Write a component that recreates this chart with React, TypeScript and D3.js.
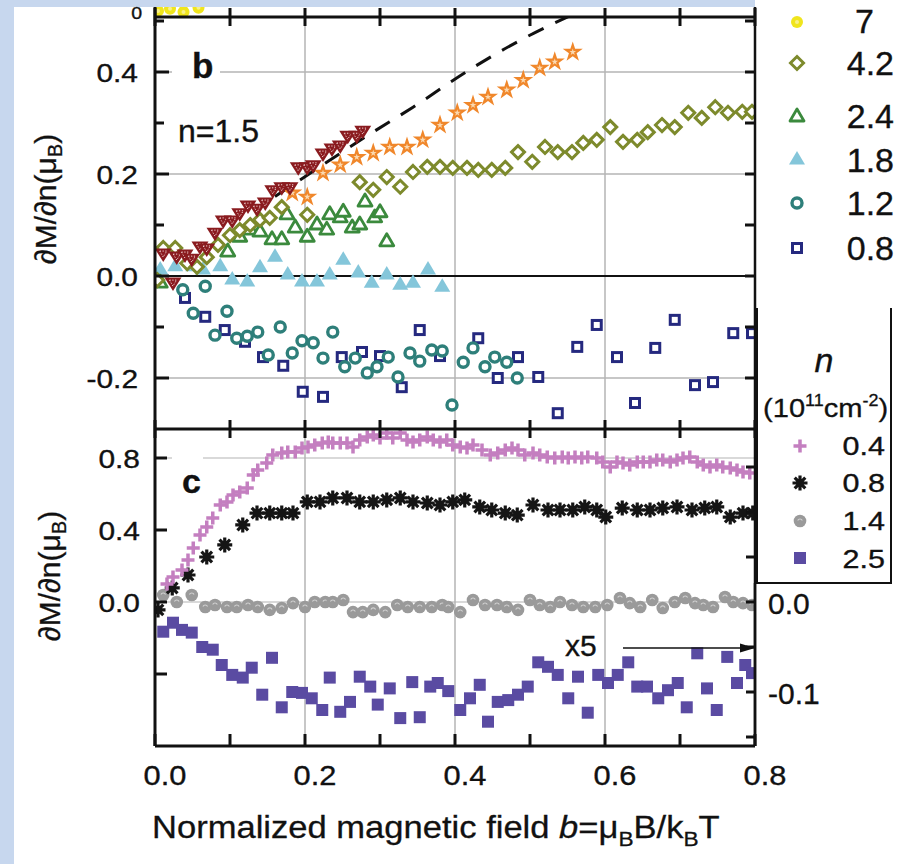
import React from "react";
import * as d3 from "d3";

// ---------------- data ----------------
// x = normalized field b, y = dM/dn (mu_B)
const xMajorTicks = [0, 0.2, 0.4, 0.6, 0.8];
const xMinorTicks = [0.1, 0.3, 0.5, 0.7];
const xGrid = [0.2, 0.4, 0.6];
const bMajorTicks = [0.4, 0.2, 0.0, -0.2];
const bMinorTicks = [0.5, 0.3, 0.1, -0.1];
const bGrid = [0.4, 0.2, -0.2];
const cMajorTicks = [0.8, 0.4, 0.0, -0.4];
const cLabeledTicks = [0.8, 0.4, 0.0];
const cGrid = [0.8, 0.0];
const rightTicks = [0.15, 0.1, 0.05, 0.0, -0.05, -0.1, -0.15];
const rightLabels = [0.0, -0.1];

const legendB = ["7", "4.2", "2.4", "1.8", "1.2", "0.8"];
const legendC = ["0.4", "0.8", "1.4", "2.5"];

// panel b
const redTriangles = [
  [0.011, 0.045], [0.024, -0.012], [0.029, 0.039], [0.04, 0.043], [0.049, 0.035], [0.06, 0.059],
  [0.069, 0.055], [0.08, 0.086], [0.091, 0.11], [0.103, 0.11], [0.113, 0.124], [0.124, 0.139],
  [0.136, 0.133], [0.147, 0.145], [0.157, 0.169], [0.169, 0.175], [0.18, 0.175], [0.191, 0.214],
  [0.203, 0.214], [0.211, 0.218], [0.224, 0.241], [0.236, 0.251], [0.247, 0.257], [0.257, 0.276],
  [0.269, 0.276], [0.277, 0.286],
];
const orangeStars = [
  [0.183, 0.163], [0.203, 0.155], [0.224, 0.202], [0.247, 0.218], [0.269, 0.233], [0.291, 0.241],
  [0.313, 0.253], [0.336, 0.253], [0.357, 0.267], [0.38, 0.296], [0.403, 0.32], [0.424, 0.335],
  [0.444, 0.351], [0.469, 0.365], [0.491, 0.384], [0.513, 0.408], [0.533, 0.42], [0.557, 0.439],
];
const n42 = [
  [0.003, -0.008], [0.011, 0.055], [0.027, 0.055], [0.043, 0.025], [0.056, 0.018], [0.069, 0.037],
  [0.084, 0.061], [0.1, 0.08], [0.113, 0.09], [0.127, 0.1], [0.14, 0.11], [0.153, 0.114],
  [0.169, 0.135], [0.203, 0.12], [0.273, 0.184], [0.291, 0.169], [0.309, 0.194], [0.327, 0.175],
  [0.344, 0.204], [0.363, 0.214], [0.38, 0.214], [0.397, 0.212], [0.416, 0.212], [0.431, 0.208],
  [0.449, 0.208], [0.467, 0.212], [0.484, 0.243], [0.503, 0.224], [0.52, 0.253], [0.537, 0.243],
  [0.556, 0.243], [0.571, 0.261], [0.589, 0.267], [0.607, 0.292], [0.624, 0.263], [0.643, 0.267],
  [0.657, 0.282], [0.676, 0.296], [0.693, 0.292], [0.711, 0.32], [0.729, 0.31], [0.747, 0.331],
  [0.764, 0.32], [0.783, 0.322], [0.796, 0.322],
];
const n24 = [
  [0.007, -0.014], [0.097, 0.047], [0.113, 0.076], [0.127, 0.09], [0.14, 0.086], [0.156, 0.071],
  [0.169, 0.071], [0.176, 0.12], [0.187, 0.094], [0.203, 0.076], [0.216, 0.1], [0.229, 0.09],
  [0.233, 0.12], [0.247, 0.114], [0.251, 0.125], [0.263, 0.094], [0.273, 0.1], [0.28, 0.145],
  [0.293, 0.114], [0.3, 0.124], [0.309, 0.067],
];
const n18 = [
  [0.007, 0.012], [0.027, 0.018], [0.051, 0.018], [0.064, 0.012], [0.087, 0.018], [0.103, -0.008],
  [0.123, -0.012], [0.14, 0.016], [0.16, 0.037], [0.177, 0.002], [0.196, -0.012], [0.216, -0.012],
  [0.233, 0.002], [0.251, 0.031], [0.271, 0.006], [0.289, -0.014], [0.309, 0.002], [0.327, -0.018],
  [0.344, -0.014], [0.364, 0.012], [0.383, -0.022],
];
const n12 = [
  [0.037, -0.027], [0.051, -0.073], [0.067, -0.02], [0.08, -0.116], [0.096, -0.069], [0.109, -0.122],
  [0.123, -0.118], [0.137, -0.11], [0.151, -0.155], [0.167, -0.1], [0.183, -0.151], [0.196, -0.127],
  [0.211, -0.131], [0.224, -0.161], [0.237, -0.11], [0.253, -0.178], [0.267, -0.161], [0.283, -0.19],
  [0.296, -0.178], [0.311, -0.159], [0.324, -0.198], [0.34, -0.151], [0.353, -0.167], [0.369, -0.145],
  [0.383, -0.147], [0.396, -0.253], [0.411, -0.169], [0.424, -0.141], [0.44, -0.178], [0.453, -0.159],
  [0.469, -0.169], [0.483, -0.2],
];
const n08b = [
  [0.04, -0.043], [0.067, -0.08], [0.093, -0.106], [0.12, -0.129], [0.144, -0.159], [0.171, -0.176],
  [0.197, -0.227], [0.224, -0.237], [0.249, -0.159], [0.276, -0.149], [0.3, -0.157], [0.329, -0.218],
  [0.353, -0.106], [0.38, -0.157], [0.431, -0.122], [0.457, -0.2], [0.484, -0.159], [0.511, -0.198],
  [0.537, -0.269], [0.563, -0.139], [0.589, -0.096], [0.616, -0.159], [0.64, -0.249], [0.667, -0.141],
  [0.693, -0.086], [0.72, -0.214], [0.744, -0.208], [0.771, -0.112], [0.796, -0.112],
];
// remnants of the panel above (n = 7)
const n7top = [[0.004, 0.012], [0.02, 0.016], [0.038, 0.01], [0.058, 0.018]];
// dashed theory curve
const theory = [
  [0.16, 0.156], [0.193, 0.188], [0.284, 0.276], [0.344, 0.331], [0.42, 0.405], [0.497, 0.47], [0.556, 0.512],
];

// panel c
const n04 = [
  [0.016, 0.1], [0.024, 0.139], [0.036, 0.178], [0.044, 0.233], [0.051, 0.3], [0.06, 0.372], [0.069, 0.417],
  [0.077, 0.467], [0.087, 0.539], [0.096, 0.556], [0.104, 0.594], [0.113, 0.611], [0.123, 0.633],
  [0.131, 0.706], [0.137, 0.733], [0.149, 0.772], [0.157, 0.817], [0.169, 0.828], [0.177, 0.833],
  [0.187, 0.833], [0.196, 0.856], [0.204, 0.861], [0.213, 0.872], [0.223, 0.883], [0.231, 0.889],
  [0.237, 0.883], [0.247, 0.883], [0.256, 0.883], [0.264, 0.861], [0.273, 0.9], [0.283, 0.917],
  [0.291, 0.928], [0.3, 0.911], [0.309, 0.939], [0.317, 0.911], [0.327, 0.939], [0.336, 0.9],
  [0.344, 0.889], [0.353, 0.9], [0.363, 0.917], [0.371, 0.9], [0.38, 0.889], [0.389, 0.9],
  [0.397, 0.872], [0.407, 0.861], [0.416, 0.856], [0.424, 0.872], [0.436, 0.844], [0.447, 0.817],
  [0.457, 0.828], [0.467, 0.844], [0.476, 0.856], [0.484, 0.844], [0.493, 0.817], [0.504, 0.828],
  [0.513, 0.817], [0.523, 0.806], [0.533, 0.8], [0.543, 0.806], [0.551, 0.8], [0.56, 0.806],
  [0.569, 0.8], [0.577, 0.806], [0.589, 0.8], [0.597, 0.778], [0.607, 0.75], [0.616, 0.778],
  [0.624, 0.772], [0.633, 0.761], [0.643, 0.778], [0.651, 0.778], [0.66, 0.778], [0.669, 0.789],
  [0.677, 0.789], [0.687, 0.778], [0.696, 0.789], [0.704, 0.8], [0.713, 0.806], [0.723, 0.778],
  [0.731, 0.761], [0.74, 0.75], [0.749, 0.761], [0.757, 0.75], [0.767, 0.744], [0.776, 0.733],
  [0.784, 0.722], [0.793, 0.717],
];
const n08c = [
  [0.004, -0.044], [0.023, 0.078], [0.044, 0.15], [0.069, 0.25], [0.093, 0.317], [0.117, 0.428],
  [0.136, 0.494], [0.153, 0.494], [0.169, 0.494], [0.184, 0.494], [0.203, 0.556], [0.22, 0.556],
  [0.237, 0.578], [0.256, 0.578], [0.273, 0.556], [0.291, 0.556], [0.309, 0.567], [0.327, 0.578],
  [0.344, 0.556], [0.363, 0.55], [0.38, 0.539], [0.397, 0.556], [0.413, 0.567], [0.433, 0.528],
  [0.449, 0.511], [0.467, 0.494], [0.483, 0.483], [0.504, 0.539], [0.524, 0.511], [0.54, 0.511],
  [0.557, 0.511], [0.573, 0.528], [0.589, 0.511], [0.601, 0.472], [0.623, 0.522], [0.643, 0.511],
  [0.66, 0.511], [0.677, 0.522], [0.696, 0.528], [0.716, 0.511], [0.733, 0.522], [0.749, 0.528],
  [0.767, 0.472], [0.784, 0.494], [0.797, 0.494],
];
const n14 = [
  [0.011, 0.039], [0.029, 0.0], [0.049, 0.039], [0.067, -0.028], [0.08, -0.017], [0.096, -0.028],
  [0.109, -0.028], [0.124, -0.017], [0.137, -0.028], [0.153, -0.044], [0.169, -0.033], [0.184, -0.006],
  [0.2, -0.028], [0.213, 0.0], [0.227, 0.0], [0.237, 0.0], [0.251, 0.011], [0.264, -0.056],
  [0.277, -0.056], [0.291, -0.044], [0.307, -0.056], [0.323, -0.017], [0.337, -0.028], [0.353, -0.028],
  [0.369, -0.028], [0.383, -0.017], [0.391, -0.028], [0.407, -0.056], [0.424, 0.011], [0.44, -0.017],
  [0.456, -0.017], [0.469, -0.028], [0.484, -0.044], [0.5, 0.011], [0.513, -0.017], [0.527, -0.028],
  [0.54, 0.0], [0.556, -0.017], [0.571, -0.028], [0.587, -0.028], [0.603, -0.017], [0.62, 0.022],
  [0.633, -0.006], [0.647, -0.028], [0.663, 0.011], [0.677, -0.033], [0.693, 0.0], [0.707, 0.022],
  [0.72, -0.006], [0.731, -0.017], [0.744, -0.028], [0.76, 0.028], [0.771, 0.0], [0.784, -0.006],
  [0.796, -0.017],
];
// n = 2.5, true values (plotted x5, read on the right axis)
const n25 = [
  [0.011, -0.033], [0.024, -0.023], [0.036, -0.031], [0.049, -0.034], [0.063, -0.05], [0.077, -0.053],
  [0.089, -0.07], [0.103, -0.081], [0.117, -0.084], [0.129, -0.073], [0.143, -0.103], [0.156, -0.062],
  [0.169, -0.117], [0.183, -0.1], [0.196, -0.101], [0.209, -0.107], [0.223, -0.12], [0.233, -0.084],
  [0.247, -0.122], [0.26, -0.111], [0.273, -0.083], [0.287, -0.094], [0.297, -0.114], [0.313, -0.096],
  [0.327, -0.129], [0.343, -0.089], [0.353, -0.128], [0.367, -0.094], [0.377, -0.09], [0.391, -0.099],
  [0.407, -0.12], [0.42, -0.107], [0.433, -0.092], [0.444, -0.133], [0.457, -0.111], [0.471, -0.109],
  [0.484, -0.103], [0.497, -0.094], [0.511, -0.067], [0.524, -0.072], [0.537, -0.081], [0.551, -0.107],
  [0.564, -0.083], [0.577, -0.123], [0.591, -0.081], [0.604, -0.09], [0.617, -0.081], [0.631, -0.067],
  [0.643, -0.094], [0.656, -0.094], [0.671, -0.107], [0.684, -0.098], [0.697, -0.09], [0.709, -0.117],
  [0.723, -0.057], [0.736, -0.096], [0.749, -0.12], [0.763, -0.061], [0.776, -0.09], [0.787, -0.07],
  [0.796, -0.079],
];

// ---------------- drawing ----------------
const FF = "'Liberation Sans', Arial, 'DejaVu Sans', sans-serif";
const C = {
  red: "#8a1b1f", orange: "#f0872b", olive: "#7d8a2c", green: "#3b8a3d", lblue: "#84c6da",
  teal: "#2e7f7a", navy: "#25297f", yellow: "#f0e51d", pink: "#c47fc0", black: "#151515",
  gray: "#9a9a9a", purple: "#5a4ba2", grid: "#b4b4b4", bg: "#c7d7ee",
};

const fmt = (v: number) => d3.format(".1f")(v).replace("\u2212", "-");
const tri = (w: number, h: number, down: boolean) =>
  down ? `M${-w},${-h / 3}L${w},${-h / 3}L0,${(2 * h) / 3}Z` : `M${-w},${h / 3}L${w},${h / 3}L0,${(-2 * h) / 3}Z`;
const diamond = (r: number) => `M0,${-r}L${r},0L0,${r}L${-r},0Z`;
const plus = (r: number) => `M${-r},0H${r}M0,${-r}V${r}`;
const asterisk = (r: number) =>
  [0, 45, 90, 135]
    .map((a) => {
      const t = (a * Math.PI) / 180;
      return `M${-r * Math.cos(t)},${-r * Math.sin(t)}L${r * Math.cos(t)},${r * Math.sin(t)}`;
    })
    .join("");
const starPath = d3.symbol(d3.symbolStar, 125)() as string;
const starInner = d3.symbol(d3.symbolStar, 14)() as string;

const T = (p: any) => {
  const { x, y, sx = 1, anchor = "start", size, weight = "normal", style = "normal", children, rot = 0 } = p;
  return (
    <text
      transform={`translate(${x},${y}) rotate(${rot}) scale(${sx},1)`}
      textAnchor={anchor}
      fontSize={size}
      fontWeight={weight}
      fontStyle={style}
      fontFamily={FF}
      fill="#111"
      stroke="#111"
      strokeWidth={0.35}
    >
      {children}
    </text>
  );
};

const M = {
  redTri: (k: any) => (
    <g key={k.key} transform={`translate(${k.cx},${k.cy})`}>
      <path d={tri(8.5, 13.5, true)} fill={C.red} />
      <path d={tri(3.5, 6, true)} fill="none" stroke="#f3d6d6" strokeWidth={1} strokeDasharray="1.2 1.6" />
    </g>
  ),
  star: (k: any) => (
    <g key={k.key} transform={`translate(${k.cx},${k.cy})`}>
      <path d={starPath} fill={C.orange} />
      <path d={starInner} fill="#fbd9b0" />
    </g>
  ),
  diamond: (k: any) => (
    <path key={k.key} transform={`translate(${k.cx},${k.cy})`} d={diamond(6.5)} fill="white" stroke={C.olive} strokeWidth={3} />
  ),
  gTri: (k: any) => (
    <path key={k.key} transform={`translate(${k.cx},${k.cy})`} d={tri(7, 12, false)} fill="white" stroke={C.green} strokeWidth={2.8} strokeLinejoin="round" />
  ),
  bTri: (k: any) => <path key={k.key} transform={`translate(${k.cx},${k.cy})`} d={tri(8, 13.5, false)} fill={C.lblue} />,
  circ: (k: any) => <circle key={k.key} cx={k.cx} cy={k.cy} r={5} fill="white" stroke={C.teal} strokeWidth={3.4} />,
  sq: (k: any) => <rect key={k.key} x={k.cx - 4.5} y={k.cy - 4.5} width={9} height={9} fill="white" stroke={C.navy} strokeWidth={3} />,
  yel: (k: any) => (
    <g key={k.key}>
      <circle cx={k.cx} cy={k.cy} r={6} fill={C.yellow} />
      <circle cx={k.cx} cy={k.cy} r={2} fill="#f8f08a" />
    </g>
  ),
  plus: (k: any) => <path key={k.key} transform={`translate(${k.cx},${k.cy})`} d={plus(6.5)} stroke={C.pink} strokeWidth={3.5} fill="none" />,
  ast: (k: any) => <path key={k.key} transform={`translate(${k.cx},${k.cy})`} d={asterisk(7.5)} stroke={C.black} strokeWidth={3.2} fill="none" />,
  gcirc: (k: any) => (
    <g key={k.key}>
      <circle cx={k.cx} cy={k.cy} r={6.3} fill={C.gray} />
      <path d={`M${k.cx - 2.3},${k.cy - 0.5}A2.5,2.5 0 0 1 ${k.cx + 2.3},${k.cy - 0.5}`} stroke="#d2d2d2" strokeWidth={1.1} fill="none" />
    </g>
  ),
  psq: (k: any) => <rect key={k.key} x={k.cx - 6} y={k.cy - 6} width={12} height={12} fill={C.purple} />,
};

export default function App() {
  const L = 155, R = 755, Tb = 17, Bb = 429, Bc = 746;
  const x = d3.scaleLinear().domain([0, 0.8]).range([L, R]);
  const yB = d3.scaleLinear().domain([-0.3, 0.5]).range([Bb, 21]);
  const yC = d3.scaleLinear().domain([-0.8, 0.8]).range([Bc, 458]);
  const yR = d3.scaleLinear().domain([-0.16, 0.16]).range([Bc, 458]); // right axis: value x5 on left
  const yA = d3.scaleLinear().domain([0, 0.1]).range([Tb, Tb - 51]);

  const draw = (data: number[][], ys: any, m: (k: any) => any, tag: string) =>
    data.map(([a, v], i) => m({ key: tag + i, cx: x(a), cy: ys(v) }));

  const theoryLine = d3.line<number[]>().x((d) => x(d[0])).y((d) => yB(d[1])).curve(d3.curveMonotoneX)(theory) as string;

  const allX = [...xMajorTicks, ...xMinorTicks];
  const legB = [M.yel, M.diamond, M.gTri, M.bTri, M.circ, M.sq];
  const legBy = [22, 63, 117, 160, 203, 248];
  const legBbase = [33, 75, 128, 172, 215, 260];
  const legC = [M.plus, M.ast, M.gcirc, M.psq];
  const legCy = [446, 483, 521, 558];
  const legCbase = [455, 492, 530, 568];

  return (
    <div style={{ position: "fixed", left: 0, top: 0 }}>
      <svg width={902} height={864} style={{ display: "block", background: "white" }}>
        <defs>
          <clipPath id="clipB">
            <rect x={L} y={Tb} width={R - L} height={Bb - Tb} />
          </clipPath>
          <clipPath id="clipC">
            <rect x={L} y={Bb} width={R - L} height={Bc - Bb} />
          </clipPath>
          <clipPath id="clipA">
            <rect x={L} y={7} width={R - L} height={Tb - 7} />
          </clipPath>
        </defs>

        {/* grid */}
        {xGrid.map((g) => (
          <line key={"gx" + g} x1={x(g)} x2={x(g)} y1={Tb} y2={Bc} stroke={C.grid} strokeWidth={1.5} />
        ))}
        {bGrid.map((g) => (
          <line key={"gb" + g} x1={L} x2={R} y1={yB(g)} y2={yB(g)} stroke={C.grid} strokeWidth={1.5} />
        ))}
        {cGrid.map((g) => (
          <line key={"gc" + g} x1={L} x2={R} y1={yC(g)} y2={yC(g)} stroke={C.grid} strokeWidth={1.2} />
        ))}
        <line x1={L} x2={R} y1={yB(0)} y2={yB(0)} stroke="#111" strokeWidth={2} />

        {/* panel letters with knock-outs */}
        <rect x={172} y={48} width={48} height={40} fill="white" />
        <rect x={172} y={452} width={31} height={12} fill="white" />
        <T x={192} y={78} size={35} weight="bold">b</T>
        <T x={178} y={142} size={32}>n=1.5</T>
        <T x={182} y={493} size={34} weight="bold">c</T>

        {/* panel b data */}
        <g clipPath="url(#clipB)">
          <path d={theoryLine} fill="none" stroke="#111" strokeWidth={3} strokeDasharray="17 13" />
          {draw(n08b, yB, M.sq, "sq")}
          {draw(n12, yB, M.circ, "ci")}
          {draw(n18, yB, M.bTri, "bt")}
          {draw(n24, yB, M.gTri, "gt")}
          {draw(n42, yB, M.diamond, "di")}
          {draw(orangeStars, yB, M.star, "st")}
          {draw(redTriangles, yB, M.redTri, "rt")}
        </g>
        <g clipPath="url(#clipA)">{draw(n7top, yA, M.yel, "y7")}</g>

        {/* panel c data */}
        <g clipPath="url(#clipC)">
          {draw(n25, yR, M.psq, "ps")}
          {draw(n14, yC, M.gcirc, "gc")}
          {draw(n08c, yC, M.ast, "as")}
          {draw(n04, yC, M.plus, "pl")}
        </g>

        {/* x5 arrow */}
        <T x={565} y={656} size={30}>x5</T>
        <line x1={623} x2={744} y1={648} y2={648} stroke="#111" strokeWidth={1.6} />
        <path d="M755,648L740,643.5L740,652.5Z" fill="#111" />

        {/* frames */}
        <line x1={L} x2={L} y1={7} y2={Bc} stroke="#111" strokeWidth={3} />
        <line x1={R} x2={R} y1={7} y2={Bc} stroke="#111" strokeWidth={2.5} />
        <line x1={L} x2={R} y1={Tb} y2={Tb} stroke="#111" strokeWidth={3} />
        <line x1={L} x2={R} y1={Bb} y2={Bb} stroke="#111" strokeWidth={3} />
        <line x1={L} x2={R} y1={Bc} y2={Bc} stroke="#111" strokeWidth={3} />

        {/* x ticks */}
        {allX.map((t) => (
          <g key={"xt" + t}>
            <line x1={x(t)} x2={x(t)} y1={Tb - 9} y2={Tb + 9} stroke="#111" strokeWidth={3} />
            <line x1={x(t)} x2={x(t)} y1={Bb - 9} y2={Bb + 9} stroke="#111" strokeWidth={3} />
            <line x1={x(t)} x2={x(t)} y1={Bc - 12} y2={Bc} stroke="#111" strokeWidth={3} />
          </g>
        ))}
        {xMajorTicks.map((t) => (
          <T key={"xl" + t} x={x(t) + 10} y={785} size={28} sx={1.1} anchor="middle">
            {fmt(t)}
          </T>
        ))}

        {/* panel b y ticks */}
        {bMajorTicks.map((t) => (
          <g key={"bt" + t}>
            <line x1={L} x2={L + 14} y1={yB(t)} y2={yB(t)} stroke="#111" strokeWidth={3} />
            <T x={138} y={yB(t) + 9.5} size={26} sx={1.15} anchor="end">
              {fmt(t)}
            </T>
          </g>
        ))}
        {bMinorTicks.map((t) => (
          <line key={"bm" + t} x1={L} x2={L + 9} y1={yB(t)} y2={yB(t)} stroke="#111" strokeWidth={3} />
        ))}
        {[...bMajorTicks, ...bMinorTicks].map((t) => (
          <line key={"br" + t} x1={R - 10} x2={R} y1={yB(t)} y2={yB(t)} stroke="#111" strokeWidth={3} />
        ))}

        {/* panel c y ticks */}
        {cMajorTicks.map((t) => (
          <line key={"ct" + t} x1={L} x2={L + 12} y1={yC(t)} y2={yC(t)} stroke="#111" strokeWidth={3} />
        ))}
        {cLabeledTicks.map((t) => (
          <T key={"cl" + t} x={140} y={yC(t) + 9.5} size={26} sx={1.15} anchor="end">
            {fmt(t)}
          </T>
        ))}
        {rightTicks.map((t) => (
          <line key={"rt" + t} x1={R - 9} x2={R} y1={yR(t)} y2={yR(t)} stroke="#111" strokeWidth={3} />
        ))}
        {rightLabels.map((t) => (
          <T key={"rl" + t} x={768} y={yR(t) + 12} size={30}>
            {fmt(t)}
          </T>
        ))}

        {/* axis titles */}
        <text transform="translate(56,199) rotate(-90)" textAnchor="middle" fontSize={30} fontFamily={FF} fill="#111" stroke="#111" strokeWidth={0.3}>
          ∂M/∂n(μ<tspan fontSize={20} dy={6}>B</tspan>
          <tspan dy={-6}>)</tspan>
        </text>
        <text transform="translate(60,576) rotate(-90)" textAnchor="middle" fontSize={30} fontFamily={FF} fill="#111" stroke="#111" strokeWidth={0.3}>
          ∂M/∂n(μ<tspan fontSize={20} dy={6}>B</tspan>
          <tspan dy={-6}>)</tspan>
        </text>
        <text transform="translate(152,838) scale(1.08,1)" fontSize={32} fontFamily={FF} fill="#111" stroke="#111" strokeWidth={0.3}>
          Normalized magnetic field <tspan fontStyle="italic">b</tspan>=μ
          <tspan fontSize={21} dy={8}>B</tspan>
          <tspan dy={-8}>B/k</tspan>
          <tspan fontSize={21} dy={8}>B</tspan>
          <tspan dy={-8}>T</tspan>
        </text>

        {/* legend of panel b */}
        {legendB.map((lab, i) => (
          <g key={"lb" + i}>
            {legB[i]({ key: "lbs" + i, cx: 797, cy: legBy[i] })}
            <T x={lab === "7" ? 855 : 894} y={legBbase[i]} size={34} anchor={lab === "7" ? "start" : "end"}>
              {lab}
            </T>
          </g>
        ))}

        {/* legend box of panel c */}
        <rect x={757} y={308} width={134} height={275} fill="white" />
        <path d="M757,308V583H891V308" fill="none" stroke="#111" strokeWidth={2} />
        <T x={824} y={372} size={34} style="italic" anchor="middle">n</T>
        <text transform="translate(763,417) scale(1.12,1)" fontSize={26} fontFamily={FF} fill="#111" stroke="#111" strokeWidth={0.3}>
          (10<tspan fontSize={16} dy={-11}>11</tspan>
          <tspan dy={11}>cm</tspan>
          <tspan fontSize={16} dy={-11}>-2</tspan>
          <tspan dy={11}>)</tspan>
        </text>
        {legendC.map((lab, i) => (
          <g key={"lc" + i}>
            {legC[i]({ key: "lcs" + i, cx: 800, cy: legCy[i] })}
            <T x={885} y={legCbase[i]} size={25} sx={1.22} anchor="end">
              {lab}
            </T>
          </g>
        ))}
        <line x1={R} x2={R} y1={583} y2={Bc} stroke="#111" strokeWidth={2.5} />

        {/* slide background strips */}
        <rect x={0} y={0} width={14} height={864} fill={C.bg} />
        <rect x={0} y={0} width={755} height={7} fill={C.bg} />
        <T x={142} y={19} size={17} sx={1.15} anchor="end">0</T>
      </svg>
    </div>
  );
}
